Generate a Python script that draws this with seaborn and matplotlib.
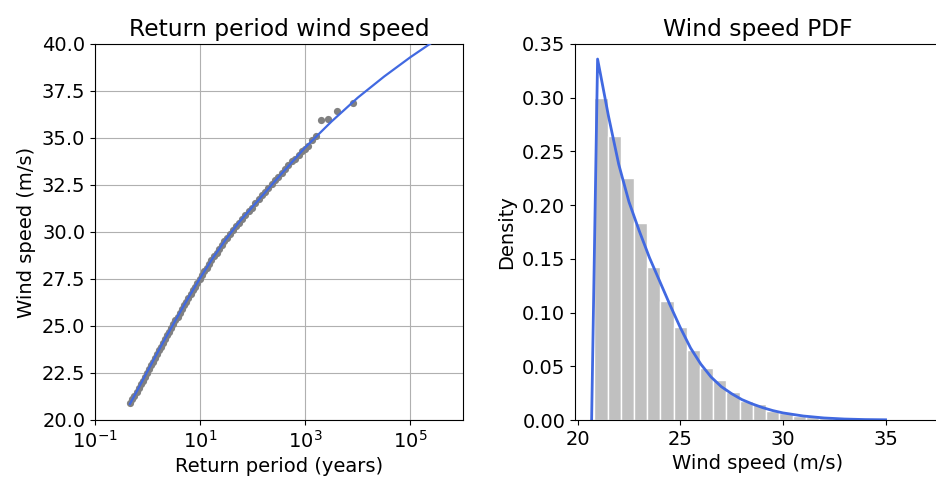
import matplotlib
matplotlib.use("Agg")
import matplotlib.pyplot as plt
import seaborn as sns
import numpy as np
import pandas as pd

plt.rcParams["font.family"] = ["DejaVu Sans"]
plt.rcParams["font.size"] = 14

# ---- Left panel data: empirical return periods (years) and wind speeds (m/s)
emp_return_period = [
    0.472, 0.516, 0.564, 0.617, 0.674, 0.736, 0.804, 0.877, 0.957, 1.045,
    1.142, 1.247, 1.363, 1.489, 1.629, 1.778, 1.950, 2.138, 2.344, 2.570,
    2.818, 3.090, 3.390, 3.722, 4.09, 4.49, 4.93, 5.42, 5.97, 6.58,
    7.26, 8.01, 8.85, 9.75, 10.8, 12.0, 13.3, 14.8, 16.4, 18.3,
    20.5, 23.0, 25.9, 29.0, 32.6, 37.1, 42.2, 47.9, 54.4, 62.6,
    72.2, 83.5, 96.4, 111, 129, 148, 171, 198, 229, 264,
    305, 353, 410, 475, 552, 640, 743, 861, 1000, 1143,
    1333, 1600, 2000, 2667, 4000, 8000,
]
emp_wind_speed = [
    20.90, 21.10, 21.30, 21.50, 21.70, 21.90, 22.10, 22.30, 22.50, 22.70,
    22.90, 23.10, 23.30, 23.50, 23.70, 23.90, 24.10, 24.30, 24.50, 24.70,
    24.90, 25.10, 25.30, 25.50, 25.70, 25.90, 26.10, 26.30, 26.50, 26.70,
    26.90, 27.10, 27.30, 27.50, 27.70, 27.90, 28.10, 28.30, 28.50, 28.70,
    28.90, 29.10, 29.30, 29.50, 29.70, 29.90, 30.10, 30.30, 30.50, 30.70,
    30.90, 31.10, 31.30, 31.55, 31.75, 31.95, 32.15, 32.35, 32.55, 32.75,
    32.95, 33.15, 33.35, 33.55, 33.75, 33.90, 34.10, 34.30, 34.40, 34.60,
    34.88, 35.10, 35.94, 36.03, 36.44, 36.88,
]

# Fitted return level curve
fit_return_period = [0.461, 0.631, 1.0, 1.778, 3.162, 5.623, 10.0, 17.78, 31.62,
                     56.23, 100.0, 316.2, 1000.0, 3162.0, 10000.0, 31623.0,
                     100000.0, 316228.0, 1000000.0]
fit_wind_speed = [20.85, 21.55, 22.60, 23.90, 25.15, 26.38, 27.55, 28.65, 29.65,
                  30.55, 31.35, 32.95, 34.50, 35.88, 37.15, 38.27,
                  39.30, 40.25, 41.15]

# ---- Right panel data: histogram (density) and fitted PDF
hist_min, hist_max, n_bins = 20.81, 36.91, 25
hist_density = [0.300, 0.264, 0.2255, 0.183, 0.142, 0.111, 0.0865, 0.065, 0.048,
                0.037, 0.026, 0.018, 0.0148, 0.0085, 0.0063, 0.0038, 0.0024,
                0.0018, 0.0012, 0.0008, 0.0006, 0.0003, 0.0001, 0.0002, 0.0002]

pdf_x = [20.68, 20.97, 21.5, 22.0, 22.5, 23.0, 23.5, 24.0, 24.5, 25.0, 25.5, 26.0,
         26.5, 27.0, 27.5, 28.0, 28.5, 29.0, 29.5, 30.0, 31.0, 32.0, 33.0, 34.0, 35.0]
pdf_y = [0.0, 0.336, 0.283, 0.238, 0.203, 0.176, 0.151, 0.129, 0.107, 0.086, 0.067,
         0.052, 0.040, 0.031, 0.0245, 0.019, 0.0150, 0.0116, 0.0088, 0.0066,
         0.0037, 0.0019, 0.0009, 0.0004, 0.0002]

fig = plt.figure(figsize=(9.36, 4.79), dpi=100)
ax1 = fig.add_axes([95 / 936, 59 / 479, 368 / 936, 376 / 479])
ax2 = fig.add_axes([575 / 936, 59 / 479, 366 / 936, 376 / 479])

# Left panel
sns.scatterplot(x=emp_return_period, y=emp_wind_speed, ax=ax1, color="grey",
                s=27, linewidth=0, zorder=3)
sns.lineplot(x=fit_return_period, y=fit_wind_speed, ax=ax1, color="royalblue",
             linewidth=1.6, zorder=4)
ax1.set_xscale("log")
ax1.set_xlim(1e-1, 1e6)
ax1.set_ylim(20, 40)
ax1.set_xticks([1e-1, 1e1, 1e3, 1e5])
ax1.xaxis.set_minor_locator(matplotlib.ticker.NullLocator())
ax1.grid(True, color="#b0b0b0", linewidth=0.8, zorder=0)
ax1.set_axisbelow(True)
ax1.set_title("Return period wind speed")
ax1.set_xlabel("Return period (years)")
ax1.set_ylabel("Wind speed (m/s)")

# Right panel
edges = [float(e) for e in np.linspace(hist_min, hist_max, n_bins + 1)]
centers = [(edges[i] + edges[i + 1]) / 2 for i in range(n_bins)]
hist_df = pd.DataFrame({"speed": centers, "density": hist_density})
sns.histplot(data=hist_df, x="speed", weights="density", bins=edges, ax=ax2,
             color="#c0c0c0", alpha=1, edgecolor="white", linewidth=1)
sns.lineplot(x=pdf_x, y=pdf_y, ax=ax2, color="royalblue", linewidth=2)
ax2.set_xlim(19.87, 37.7)
ax2.set_ylim(0, 0.35)
ax2.set_title("Wind speed PDF")
ax2.set_xlabel("Wind speed (m/s)")
ax2.set_ylabel("Density")

fig.savefig("out.png", dpi=100)
